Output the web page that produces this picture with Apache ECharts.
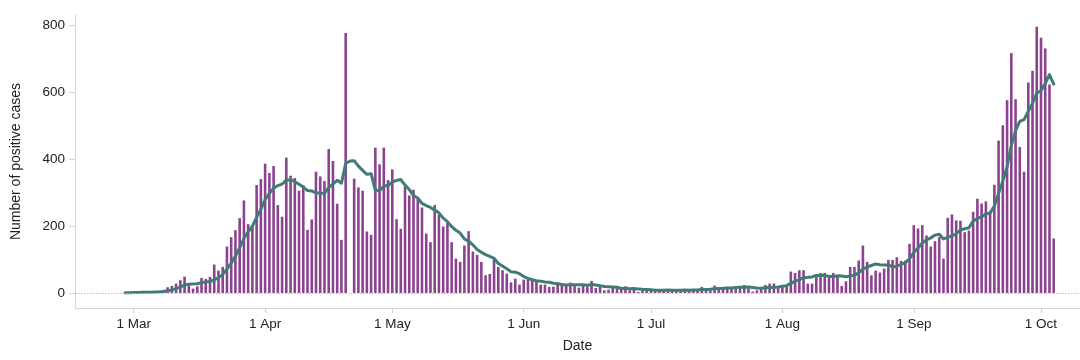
<!DOCTYPE html>
<html>
<head>
<meta charset="utf-8">
<script src="https://cdn.jsdelivr.net/npm/echarts@6/dist/echarts.min.js"></script>
<style>
html,body{margin:0;padding:0;background:#fff;}
#chart{width:1080px;height:360px;}
</style>
</head>
<body>
<div id="chart"></div>
<script>
// first day of the series
const firstDate = [2020, 1, 28]; // 28 Feb 2020 (month is 0-based)
// daily number of positive cases (bars)
const cases = [
  1,1,2,2,3,3,4,5,6,9,
  17,21,28,38,49,23,13,20,45,42,
  48,85,67,78,139,167,188,224,277,206,
  197,323,341,387,359,380,263,228,405,351,
  344,306,322,189,220,363,349,335,431,395,
  267,159,778,0,342,316,306,184,174,435,
  385,435,338,370,221,192,319,292,309,286,
  256,178,152,263,235,199,210,152,103,93,
  142,185,124,114,93,53,57,100,78,68,
  58,32,43,25,40,41,38,36,25,25,
  18,19,31,23,25,31,25,16,23,20,
  36,15,18,8,10,18,14,12,20,8,
  10,3,10,10,6,8,10,8,10,6,
  9,8,10,6,12,10,18,8,14,22,
  12,14,18,18,16,19,24,14,4,8,
  14,24,28,28,21,18,21,64,60,68,
  68,28,28,52,60,60,52,60,50,21,
  35,78,78,97,142,93,53,67,61,73,
  99,99,107,96,97,147,203,193,203,172,
  139,155,167,103,225,235,217,216,182,187,
  243,282,268,274,242,324,456,502,577,718,
  580,437,363,630,665,797,764,732,624,163
];
// 7-day average line
const avg7 = [
  1,1,1.3,1.6,1.9,2.3,2.3,2.9,3.6,4.6,
  6.7,9.3,12.9,17.7,24,26.4,27,27.4,30.9,32.9,
  34.3,39.4,45.7,55,72,89.4,110.3,135.4,162.9,182.7,
  199.7,226,250.9,279.3,298.6,313.3,321.4,325.9,337.6,339,
  332.9,325.3,317,306.4,305.3,299.3,299,297.7,315.6,326,
  337.1,328.4,387.7,395,396,379.6,366.9,355,357.1,308.1,
  306,319.3,322.4,331.6,336.9,339.4,322.9,309.6,291.6,284.1,
  267.9,261.7,256,248,239.9,224.1,213.3,198.4,187.7,179.3,
  162,154.9,144.1,130.4,122,114.9,109.7,103.7,88.4,80.4,
  72.4,63.7,62.3,57.7,49.1,43.9,39.6,36.4,35.4,32.9,
  31.9,28.9,27.4,25.3,23.7,24.6,24.6,24.3,24.9,23.3,
  25.1,23.7,21.9,19.4,18.6,17.9,17,13.6,14.3,12.9,
  13.1,12.1,11,10.4,9.6,7.9,8.1,7.9,8.9,8.3,
  8.1,8.4,8.7,8.1,8.7,8.7,10.4,10.3,11.1,12.9,
  13.7,14,15.1,15.1,16.3,17,17.3,17.6,16.1,14.7,
  14.1,15.3,16.6,17.1,18.1,20.1,22,29.1,34.3,40,
  45.7,46.7,48.1,52.6,52,52,49.7,48.6,51.7,50.7,
  48.3,50.9,53.4,59.9,71.6,77.7,82.3,86.9,84.4,83.7,
  84,77.9,79.9,86,90.3,102.6,121.1,134.6,149.4,158.7,
  164.9,173.1,176,161.7,166.3,170.9,177.3,188.3,192.1,195,
  215,223.1,227.9,236,239.7,260,298.4,335.4,377.6,441.9,
  485.6,513.4,519,543.9,567.1,598.6,605.1,626.9,653.6,625
];
// x tick dates and labels
const tickDates = [[2020,2,1],[2020,3,1],[2020,4,1],[2020,5,1],[2020,6,1],[2020,7,1],[2020,8,1],[2020,9,1]];
const tickLabels = ['1 Mar','1 Apr','1 May','1 Jun','1 Jul','1 Aug','1 Sep','1 Oct'];
const yTicks = [0, 200, 400, 600, 800];
const xDomain = [[2020,1,16.16],[2020,9,10.2]];
const yDomain = [-45, 832];

const DAY = 86400000;
const origin = Date.UTC(2020, 2, 1);
const dayOf = (d) => (Date.UTC(d[0], d[1], 1) + (d[2] - 1) * DAY - origin) / DAY;
const start = dayOf(firstDate);
const barData = cases.map((v, i) => [start + i, v]);
const lineData = avg7.map((v, i) => [start + i, v]);
const tickDays = tickDates.map(dayOf);

const font = '"Liberation Sans", Arial, Helvetica, sans-serif';
const chart = echarts.init(document.getElementById('chart'), null, {renderer: 'canvas'});
chart.setOption({
  animation: false,
  backgroundColor: '#ffffff',
  textStyle: {fontFamily: font},
  grid: {left: 75, right: 0, top: 15, bottom: 52},
  xAxis: {
    type: 'value',
    min: dayOf(xDomain[0]),
    max: dayOf(xDomain[1]),
    name: 'Date',
    nameLocation: 'middle',
    nameGap: 31,
    nameTextStyle: {fontSize: 14, color: '#222', fontFamily: font},
    axisLine: {onZero: false, lineStyle: {color: '#d4d4d4', width: 1}},
    axisTick: {show: true, length: 5, lineStyle: {color: '#d4d4d4'}, customValues: tickDays},
    axisLabel: {
      fontSize: 13.5, color: '#222', margin: 9, fontFamily: font,
      customValues: tickDays,
      formatter: (v) => { const k = tickDays.indexOf(v); return k >= 0 ? tickLabels[k] : ''; }
    },
    splitLine: {show: false}
  },
  yAxis: {
    type: 'value',
    min: yDomain[0],
    max: yDomain[1],
    name: 'Number of positive cases',
    nameLocation: 'middle',
    nameGap: 52,
    nameTextStyle: {fontSize: 14, color: '#222', fontFamily: font},
    axisLine: {show: true, onZero: false, lineStyle: {color: '#d4d4d4', width: 1}},
    axisTick: {show: true, length: 6, lineStyle: {color: '#d4d4d4'}, customValues: yTicks},
    axisLabel: {fontSize: 13.5, color: '#222', margin: 10, fontFamily: font, customValues: yTicks},
    splitLine: {show: false}
  },
  series: [
    {
      type: 'line',
      data: [],
      z: 1,
      silent: true,
      markLine: {
        silent: true,
        symbol: ['none', 'none'],
        label: {show: false},
        lineStyle: {color: '#bdbdbd', type: [1.5, 1.5], width: 1},
        data: [{yAxis: 0}]
      }
    },
    {
      type: 'bar',
      data: barData,
      barWidth: 2.6,
      z: 2,
      itemStyle: {color: '#8b4390'}
    },
    {
      type: 'line',
      data: lineData,
      z: 3,
      symbol: 'none',
      smooth: false,
      lineStyle: {color: '#3f7c75', width: 3, join: 'round', cap: 'round'}
    }
  ]
});
</script>
</body>
</html>
